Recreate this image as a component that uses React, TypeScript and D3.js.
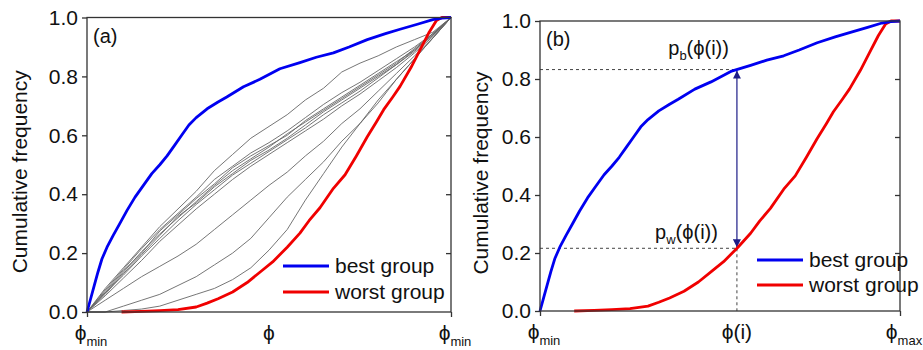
import React, { useEffect, useRef } from 'react';
import * as d3 from 'd3';

// ---- data (phi normalised to 0..1) ----
const bestPhi = [0, 0.01, 0.02, 0.03, 0.041, 0.055, 0.072, 0.09, 0.11, 0.132, 0.155, 0.178, 0.2, 0.22, 0.24, 0.26, 0.28, 0.30, 0.33, 0.36, 0.384, 0.43, 0.475, 0.53, 0.585, 0.63, 0.677, 0.72, 0.77, 0.82, 0.86, 0.91, 0.95, 0.975, 1.0];
const bestFreq = [0, 0.045, 0.09, 0.135, 0.18, 0.22, 0.26, 0.3, 0.345, 0.39, 0.43, 0.47, 0.5, 0.53, 0.565, 0.6, 0.635, 0.66, 0.69, 0.713, 0.73, 0.765, 0.79, 0.826, 0.847, 0.865, 0.88, 0.90, 0.925, 0.945, 0.96, 0.978, 0.993, 0.998, 1.0];

const worstPhi = [0.095, 0.15, 0.2, 0.25, 0.30, 0.33, 0.36, 0.40, 0.44, 0.48, 0.51, 0.55, 0.585, 0.61, 0.64, 0.677, 0.709, 0.74, 0.77, 0.795, 0.815, 0.84, 0.86, 0.89, 0.915, 0.94, 0.96, 0.975, 1.0];
const worstFreq = [0, 0.002, 0.005, 0.008, 0.017, 0.03, 0.045, 0.068, 0.10, 0.14, 0.17, 0.22, 0.268, 0.31, 0.354, 0.42, 0.466, 0.53, 0.595, 0.645, 0.687, 0.73, 0.766, 0.83, 0.89, 0.95, 0.99, 1.0, 1.0];

// grey curves of the other groups in panel (a)
const greyPhi = [0, 0.05, 0.1, 0.15, 0.2, 0.25, 0.3, 0.35, 0.4, 0.45, 0.5, 0.55, 0.6, 0.65, 0.7, 0.75, 0.8, 0.85, 0.9, 0.95, 1.0];
const greyGroups = [
  [0, 0.08, 0.15, 0.22, 0.29, 0.35, 0.41, 0.48, 0.535, 0.59, 0.63, 0.67, 0.72, 0.76, 0.815, 0.845, 0.87, 0.9, 0.925, 0.95, 1],
  [0, 0.075, 0.145, 0.215, 0.28, 0.335, 0.39, 0.45, 0.495, 0.54, 0.575, 0.615, 0.66, 0.705, 0.745, 0.78, 0.82, 0.86, 0.9, 0.945, 1],
  [0, 0.07, 0.14, 0.2, 0.275, 0.33, 0.385, 0.435, 0.49, 0.53, 0.565, 0.6, 0.65, 0.69, 0.73, 0.77, 0.81, 0.85, 0.89, 0.94, 1],
  [0, 0.065, 0.135, 0.205, 0.265, 0.32, 0.375, 0.43, 0.48, 0.52, 0.56, 0.605, 0.645, 0.685, 0.725, 0.765, 0.805, 0.845, 0.895, 0.945, 1],
  [0, 0.06, 0.13, 0.195, 0.26, 0.325, 0.37, 0.425, 0.47, 0.515, 0.55, 0.59, 0.635, 0.68, 0.72, 0.76, 0.8, 0.84, 0.885, 0.94, 1],
  [0, 0.065, 0.125, 0.19, 0.25, 0.31, 0.365, 0.415, 0.465, 0.505, 0.545, 0.585, 0.625, 0.67, 0.71, 0.75, 0.795, 0.84, 0.89, 0.945, 1],
  [0, 0.055, 0.115, 0.175, 0.24, 0.295, 0.35, 0.4, 0.45, 0.495, 0.535, 0.575, 0.615, 0.655, 0.7, 0.74, 0.785, 0.83, 0.88, 0.935, 1],
  [0, 0.04, 0.08, 0.12, 0.155, 0.19, 0.23, 0.28, 0.33, 0.38, 0.43, 0.475, 0.53, 0.58, 0.64, 0.69, 0.75, 0.81, 0.87, 0.93, 1],
  [0, 0, 0.02, 0.04, 0.06, 0.09, 0.12, 0.16, 0.2, 0.25, 0.32, 0.39, 0.45, 0.51, 0.58, 0.64, 0.71, 0.79, 0.86, 0.93, 1],
  [0, 0, 0.005, 0.01, 0.02, 0.04, 0.06, 0.08, 0.11, 0.15, 0.21, 0.28, 0.38, 0.47, 0.56, 0.64, 0.72, 0.79, 0.86, 0.93, 1],
];

const yTicks = [0, 0.2, 0.4, 0.6, 0.8, 1.0];
const xTicksA = [
  { v: 0, main: 'ϕ', sub: 'min' },
  { v: 0.5, main: 'ϕ', sub: '' },
  { v: 1, main: 'ϕ', sub: 'min' },
];
const phiI = 0.547;
const xTicksB = [
  { v: 0, main: 'ϕ', sub: 'min' },
  { v: phiI, main: 'ϕ(i)', sub: '' },
  { v: 1, main: 'ϕ', sub: 'max' },
];
const legendLabels = ['best group', 'worst group'];
const colors = { best: '#0000f0', worst: '#f00000', grey: '#666', axis: '#333', arrow: '#1c1c88' };

const FONT = '"Liberation Sans", Arial, sans-serif';

function interp(xs: number[], ys: number[], x: number) {
  const i = d3.bisectRight(xs, x) - 1;
  if (i < 0) return ys[0];
  if (i >= xs.length - 1) return ys[ys.length - 1];
  const f = (x - xs[i]) / (xs[i + 1] - xs[i]);
  return ys[i] + f * (ys[i + 1] - ys[i]);
}

function drawPanel(svg: any, p: any) {
  const x = d3.scaleLinear().domain([0, 1]).range([p.left, p.right]);
  const y = d3.scaleLinear().domain([0, 1]).range([p.bottom, p.top]);
  const g = svg.append('g');

  const line = d3.line<[number, number]>().x(d => x(d[0])).y(d => y(d[1]));

  // grey groups
  if (p.grey) {
    greyGroups.forEach(vals => {
      g.append('path')
        .attr('d', line(greyPhi.map((t, i) => [t, vals[i]])))
        .attr('fill', 'none')
        .attr('stroke', colors.grey)
        .attr('stroke-width', 0.9);
    });
  }

  // dashed guides + arrow for (b)
  if (p.arrow) {
    const pb = interp(bestPhi, bestFreq, phiI);
    const pw = interp(worstPhi, worstFreq, phiI);
    const dash = '3,3';
    g.append('line').attr('x1', x(0)).attr('x2', x(phiI)).attr('y1', y(pb)).attr('y2', y(pb))
      .attr('stroke', '#444').attr('stroke-dasharray', dash);
    g.append('line').attr('x1', x(0)).attr('x2', x(phiI)).attr('y1', y(pw)).attr('y2', y(pw))
      .attr('stroke', '#444').attr('stroke-dasharray', dash);
    g.append('line').attr('x1', x(phiI)).attr('x2', x(phiI)).attr('y1', y(pw)).attr('y2', y(0))
      .attr('stroke', '#444').attr('stroke-dasharray', dash);

    const defs = svg.append('defs');
    defs.append('marker').attr('id', 'ah').attr('viewBox', '0 0 10 10').attr('refX', 10).attr('refY', 5)
      .attr('markerWidth', 8).attr('markerHeight', 8).attr('markerUnits', 'userSpaceOnUse').attr('orient', 'auto-start-reverse')
      .append('path').attr('d', 'M0,0 L10,5 L0,10 z').attr('fill', colors.arrow);
    g.append('line').attr('x1', x(phiI)).attr('x2', x(phiI)).attr('y1', y(pw) - 1).attr('y2', y(pb) + 1)
      .attr('stroke', colors.arrow).attr('stroke-width', 1.2)
      .attr('marker-start', 'url(#ah)').attr('marker-end', 'url(#ah)');

    const lb = g.append('text').attr('x', x(phiI) - 8).attr('y', y(pb) - 15).attr('text-anchor', 'end')
      .style('font-family', FONT).style('font-size', '20px').attr('fill', '#111');
    lb.append('tspan').text('p');
    lb.append('tspan').attr('dy', 5).style('font-size', '13px').text('b');
    lb.append('tspan').attr('dy', -5).text('(ϕ(i))');
    const lw = g.append('text').attr('x', x(phiI) - 19).attr('y', y(pw) - 9).attr('text-anchor', 'end')
      .style('font-family', FONT).style('font-size', '20px').attr('fill', '#111');
    lw.append('tspan').text('p');
    lw.append('tspan').attr('dy', 5).style('font-size', '13px').text('w');
    lw.append('tspan').attr('dy', -5).text('(ϕ(i))');
  }

  // best / worst curves
  g.append('path')
    .attr('d', line(worstPhi.map((t, i) => [t, worstFreq[i]])))
    .attr('fill', 'none').attr('stroke', colors.worst).attr('stroke-width', 2.8).attr('stroke-linejoin', 'round');
  g.append('path')
    .attr('d', line(bestPhi.map((t, i) => [t, bestFreq[i]])))
    .attr('fill', 'none').attr('stroke', colors.best).attr('stroke-width', 2.8).attr('stroke-linejoin', 'round');

  // frame
  g.append('rect').attr('x', p.left).attr('y', p.top).attr('width', p.right - p.left).attr('height', p.bottom - p.top)
    .attr('fill', 'none').attr('stroke', colors.axis).attr('stroke-width', 1.3);

  // left axis (ticks out, labelled)
  const left = g.append('g').attr('transform', `translate(${p.left},0)`)
    .call(d3.axisLeft(y).tickValues(yTicks).tickFormat(d3.format('.1f')).tickSize(5).tickPadding(4));
  left.select('.domain').remove();
  left.selectAll('line').attr('stroke', colors.axis).attr('stroke-width', 1.3);
  left.selectAll('text').style('font-family', FONT).style('font-size', '21px').attr('fill', '#111');

  // right axis (ticks in, no labels)
  const right = g.append('g').attr('transform', `translate(${p.right},0)`)
    .call(d3.axisLeft(y).tickValues(yTicks.slice(1, -1)).tickFormat(() => '').tickSize(5));
  right.select('.domain').remove();
  right.selectAll('line').attr('stroke', colors.axis).attr('stroke-width', 1.3);

  // bottom ticks at the ends
  const bottom = g.append('g').attr('transform', `translate(0,${p.bottom})`)
    .call(d3.axisBottom(x).tickValues([0, 1]).tickFormat(() => '').tickSize(5));
  bottom.select('.domain').remove();
  bottom.selectAll('line').attr('stroke', colors.axis).attr('stroke-width', 1.3);

  // bottom labels with subscripts, centred a little right of the tick
  p.xTicks.forEach((t: any) => {
    const tx = g.append('text').attr('x', x(t.v) + (t.sub ? 4 : 0)).attr('y', p.bottom + 28).attr('text-anchor', 'middle')
      .style('font-family', FONT).style('font-size', '21px').attr('fill', '#111');
    tx.append('tspan').text(t.main);
    if (t.sub) tx.append('tspan').attr('dy', 6).style('font-size', '13px').text(t.sub);
  });

  // y title
  g.append('text')
    .attr('transform', `translate(${p.left - p.titleOff},${(p.top + p.bottom) / 2 + 7}) rotate(-90)`)
    .attr('text-anchor', 'middle')
    .style('font-family', FONT).style('font-size', '21px').attr('fill', '#111')
    .text('Cumulative frequency');

  // panel tag
  g.append('text').attr('x', p.left + 6).attr('y', p.top + 25)
    .style('font-family', FONT).style('font-size', '20px').attr('fill', '#111').text(p.tag);

  // legend
  const leg = g.append('g');
  [colors.best, colors.worst].forEach((c, i) => {
    const ly = p.legY + i * p.legGap;
    leg.append('line').attr('x1', p.legX).attr('x2', p.legX + 46).attr('y1', ly).attr('y2', ly)
      .attr('stroke', c).attr('stroke-width', 2.8);
    leg.append('text').attr('x', p.legX + 52).attr('y', ly + 7)
      .style('font-family', FONT).style('font-size', '21px').attr('fill', '#111').text(legendLabels[i]);
  });
}

export default function App() {
  const ref = useRef<SVGSVGElement>(null);

  useEffect(() => {
    const svg = d3.select(ref.current);
    svg.selectAll('*').remove();
    svg.append('rect').attr('width', 923).attr('height', 350).attr('fill', '#fff');

    drawPanel(svg, {
      left: 87, right: 451, top: 17.5, bottom: 312, titleOff: 60, tag: '(a)', grey: true, arrow: false,
      xTicks: xTicksA, legX: 283, legY: 266, legGap: 26,
    });
    drawPanel(svg, {
      left: 540, right: 900, top: 21, bottom: 311, titleOff: 52, tag: '(b)', grey: false, arrow: true,
      xTicks: xTicksB, legX: 757, legY: 260, legGap: 25,
    });
  }, []);

  return (
    <svg ref={ref} width={923} height={350}
      style={{ position: 'absolute', left: 0, top: 0, display: 'block' }} />
  );
}
